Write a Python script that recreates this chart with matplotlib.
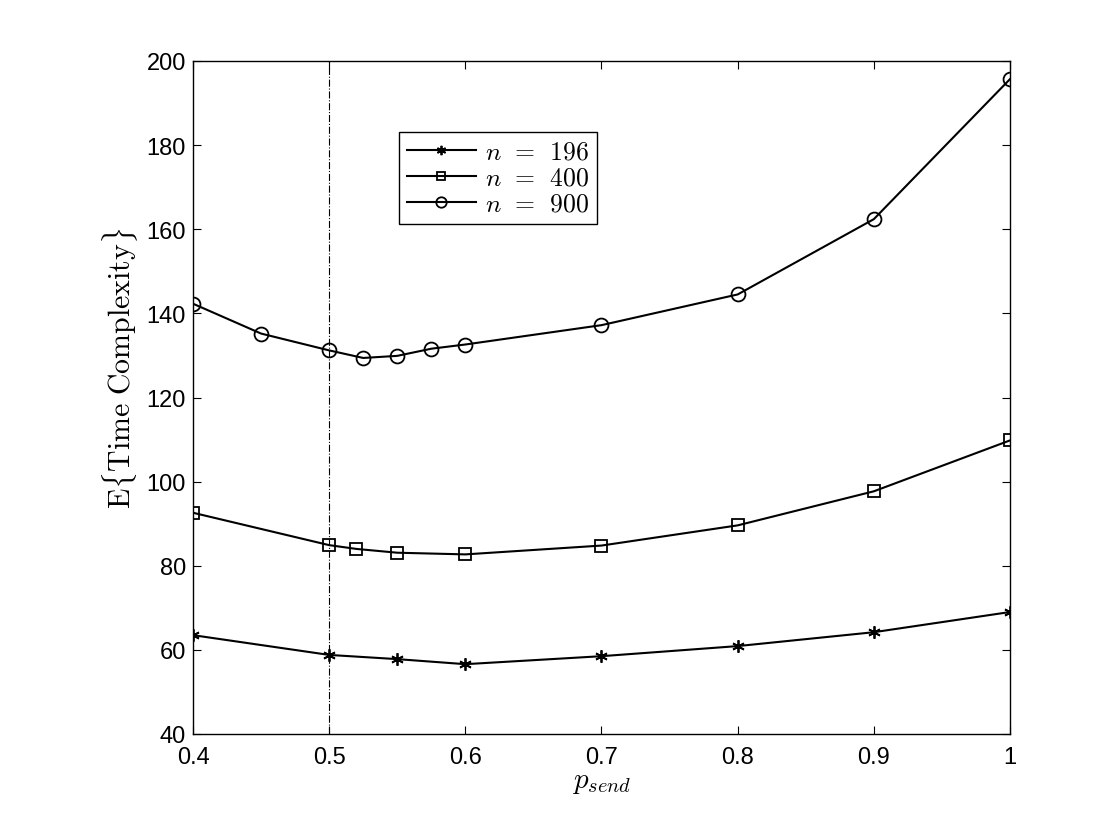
import matplotlib.pyplot as plt

plt.rcParams["mathtext.fontset"] = "cm"
plt.rcParams["font.family"] = ["Liberation Sans", "DejaVu Sans"]

# values
p_196 = [0.4, 0.5, 0.55, 0.6, 0.7, 0.8, 0.9, 1.0]
t_196 = [63.5, 58.8, 57.8, 56.6, 58.5, 60.9, 64.2, 69.0]

p_400 = [0.4, 0.5, 0.52, 0.55, 0.6, 0.7, 0.8, 0.9, 1.0]
t_400 = [92.6, 84.9, 84.0, 83.1, 82.7, 84.8, 89.6, 97.7, 109.8]

p_900 = [0.4, 0.45, 0.5, 0.525, 0.55, 0.575, 0.6, 0.7, 0.8, 0.9, 1.0]
t_900 = [142.3, 135.2, 131.2, 129.4, 129.9, 131.6, 132.6, 137.2, 144.5, 162.4, 195.7]

p_opt = 0.5

fig = plt.figure(figsize=(11.15, 8.28), dpi=100)
ax = fig.add_axes([193 / 1115, 1 - 735 / 828, 817 / 1115, 673 / 828])

ax.axvline(p_opt, color="black", lw=0.8, ls="-.")
ax.plot(p_196, t_196, color="black", lw=1.5, marker=(6, 2, 0), ms=9, mew=1.3, label=r"$n\;\,=\;\,196$")
ax.plot(p_400, t_400, color="black", lw=1.5, marker="s", ms=8, mfc="none", mew=1.3, label=r"$n\;\,=\;\,400$")
ax.plot(p_900, t_900, color="black", lw=1.5, marker="o", ms=10, mfc="none", mew=1.3, label=r"$n\;\,=\;\,900$")

ax.set_xlim(0.4, 1.0)
ax.set_ylim(40, 200)
ax.set_xticks([0.4, 0.5, 0.6, 0.7, 0.8, 0.9, 1.0])
ax.set_xticklabels(["0.4", "0.5", "0.6", "0.7", "0.8", "0.9", "1"])
ax.set_yticks(range(40, 201, 20))
ax.tick_params(direction="in", top=True, right=True, length=6, labelsize=17)
ax.tick_params(axis="x", pad=9)
ax.tick_params(axis="y", pad=5)
for s in ax.spines.values():
    s.set_linewidth(1.0)

ax.set_xlabel(r"$p_{send}$", fontsize=21, labelpad=-1)
ax.set_ylabel(r"$\mathrm{E}\{\mathrm{Time\ Complexity}\}$", fontsize=21.5)
ax.yaxis.set_label_coords(-0.065, 0.545)

leg = ax.legend(loc="upper left", bbox_to_anchor=(0.252, 0.8945), fontsize=18.5,
                fancybox=False, edgecolor="black", framealpha=1, markerscale=0.75,
                handlelength=2.7, borderpad=0.3, labelspacing=0.08, handletextpad=0.35,
                borderaxespad=0)
leg.get_frame().set_linewidth(1.0)

fig.savefig("out.png", dpi=100)
